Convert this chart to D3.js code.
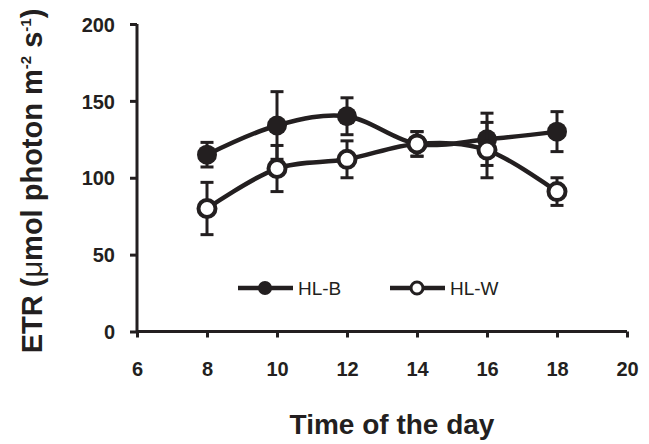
<!DOCTYPE html>
<html>
<head>
<meta charset="utf-8">
<script src="https://cdn.jsdelivr.net/npm/d3@7"></script>
<style>
  body { margin: 0; background: #fff; }
  text { font-family: "Liberation Sans", Arial, sans-serif; fill: #231f20; }
</style>
</head>
<body>
<div id="chart"></div>
<script>
// Data
var hours = [8, 10, 12, 14, 16, 18];
var hlB = [115, 134, 140, 122, 125, 130];
var hlBErr = [8, 22, 12, 8, 17, 13];
var hlW = [80, 106, 112, 122, 118, 91];
var hlWErr = [17, 15, 12, 8, 18, 9];
var xTicks = [6, 8, 10, 12, 14, 16, 18, 20];
var yTicks = [0, 50, 100, 150, 200];

var ink = "#231f20";
var svgWidth = 649, svgHeight = 444;

var svg = d3.select("#chart").append("svg")
  .attr("width", svgWidth)
  .attr("height", svgHeight);

// Scales
var x = d3.scaleLinear().domain([6, 20]).range([137, 627]);
var y = d3.scaleLinear().domain([0, 200]).range([331.5, 24]);

// Axes
var xAxis = svg.append("g")
  .attr("transform", "translate(0," + y(0) + ")")
  .call(d3.axisBottom(x).tickValues(xTicks).tickSize(6).tickPadding(24).tickFormat(d3.format("d")));
var yAxis = svg.append("g")
  .attr("transform", "translate(" + x(6) + ",0)")
  .call(d3.axisLeft(y).tickValues(yTicks).tickSize(7).tickPadding(15));

[xAxis, yAxis].forEach(function(a) {
  a.select(".domain").attr("stroke", ink).attr("stroke-width", 3);
  a.selectAll(".tick line").attr("stroke", ink).attr("stroke-width", 3);
  a.selectAll(".tick text")
    .attr("fill", ink)
    .style("font-size", "20px")
    .style("font-weight", "bold")
    .style("font-family", "'Liberation Sans', Arial, sans-serif");
});
yAxis.selectAll(".tick text").attr("dy", "0.36em");
xAxis.select(".domain").attr("d", "M" + x(6) + ",0H" + x(20));
yAxis.select(".domain").attr("d", "M0," + y(0) + "V" + y(200));

// Series
var line = d3.line()
  .x(function(d) { return x(d[0]); })
  .y(function(d) { return y(d[1]); })
  .curve(d3.curveCardinal.tension(0));

function drawSeries(vals, errs, filled) {
  var pts = hours.map(function(h, i) { return [h, vals[i], errs[i]]; });
  var g = svg.append("g");
  g.append("path")
    .datum(pts)
    .attr("d", line)
    .attr("fill", "none")
    .attr("stroke", ink)
    .attr("stroke-width", 4.5);

  var eb = g.selectAll(".eb").data(pts).enter().append("g");
  eb.append("line")
    .attr("x1", function(d) { return x(d[0]); })
    .attr("x2", function(d) { return x(d[0]); })
    .attr("y1", function(d) { return y(d[1] + d[2]); })
    .attr("y2", function(d) { return y(d[1] - d[2]); })
    .attr("stroke", ink).attr("stroke-width", 3);
  [1, -1].forEach(function(s) {
    eb.append("line")
      .attr("x1", function(d) { return x(d[0]) - 6.5; })
      .attr("x2", function(d) { return x(d[0]) + 6.5; })
      .attr("y1", function(d) { return y(d[1] + s * d[2]); })
      .attr("y2", function(d) { return y(d[1] + s * d[2]); })
      .attr("stroke", ink).attr("stroke-width", 3);
  });

  g.selectAll("circle").data(pts).enter().append("circle")
    .attr("cx", function(d) { return x(d[0]); })
    .attr("cy", function(d) { return y(d[1]); })
    .attr("r", filled ? 10 : 8.5)
    .attr("fill", filled ? ink : "#fff")
    .attr("stroke", ink)
    .attr("stroke-width", filled ? 0 : 4);
}
drawSeries(hlB, hlBErr, true);
drawSeries(hlW, hlWErr, false);

// Legend
var legend = [
  { name: "HL-B", x0: 238, filled: true },
  { name: "HL-W", x0: 390, filled: false }
];
var ly = 288;
legend.forEach(function(l) {
  svg.append("line")
    .attr("x1", l.x0).attr("x2", l.x0 + 55)
    .attr("y1", ly).attr("y2", ly)
    .attr("stroke", ink).attr("stroke-width", 4.5);
  svg.append("circle")
    .attr("cx", l.x0 + 27).attr("cy", ly)
    .attr("r", l.filled ? 7 : 6)
    .attr("fill", l.filled ? ink : "#fff")
    .attr("stroke", ink)
    .attr("stroke-width", l.filled ? 0 : 3);
  svg.append("text")
    .attr("x", l.x0 + 60).attr("y", ly)
    .attr("dy", "0.36em")
    .style("font-size", "19px")
    .text(l.name);
});

// Axis titles
svg.append("text")
  .attr("x", 392).attr("y", 434)
  .attr("text-anchor", "middle")
  .style("font-size", "28px")
  .style("font-weight", "bold")
  .text("Time of the day");

var yt = svg.append("text")
  .attr("transform", "translate(42,181) rotate(-90)")
  .attr("text-anchor", "middle")
  .style("font-size", "29px")
  .style("font-weight", "bold");
yt.append("tspan").text("ETR (");
yt.append("tspan").style("font-weight", "normal").text("\u03bc");
yt.append("tspan").text("mol photon m");
yt.append("tspan").attr("dy", "-11").style("font-size", "15px").text("-2");
yt.append("tspan").attr("dy", "11").text(" s");
yt.append("tspan").attr("dy", "-11").style("font-size", "15px").text("-1");
yt.append("tspan").attr("dy", "11").text(")");
</script>
</body>
</html>
